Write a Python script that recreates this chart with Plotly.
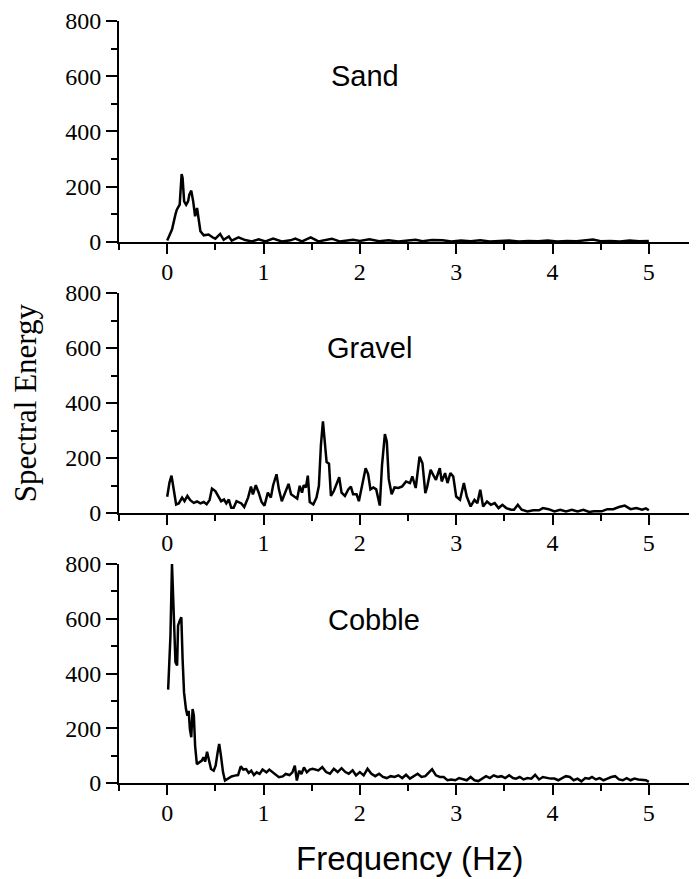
import plotly.graph_objects as go

# ---------------- data ----------------
sand_freq = [0.0, 0.05, 0.086, 0.1, 0.13, 0.15, 0.16, 0.176, 0.197, 0.217,
             0.23, 0.25, 0.27, 0.29, 0.31, 0.33, 0.345, 0.38, 0.43, 0.47,
             0.5, 0.55, 0.586, 0.64, 0.67, 0.74, 0.81, 0.88, 0.95, 1.02,
             1.1, 1.19, 1.28, 1.33, 1.4, 1.49, 1.57, 1.71, 1.79, 1.93,
             2.0, 2.1, 2.2, 2.3, 2.4, 2.5, 2.58, 2.65, 2.75, 2.86,
             2.95, 3.05, 3.15, 3.25, 3.35, 3.45, 3.55, 3.65, 3.75, 3.85,
             3.95, 4.05, 4.15, 4.25, 4.35, 4.42, 4.5, 4.6, 4.7, 4.8,
             4.9, 5.0]
sand_energy = [5, 45, 100, 117, 135, 246, 232, 147, 135, 147,
               171, 186, 147, 93, 123, 81, 39, 24, 27, 17,
               12, 29, 8, 20, 5, 17, 7, 2, 10, 2,
               12, 2, 6, 12, 2, 17, 2, 12, 2, 8,
               4, 10, 3, 6, 2, 5, 8, 3, 7, 6,
               2, 5, 3, 6, 2, 4, 5, 2, 4, 3,
               5, 2, 4, 3, 6, 9, 3, 4, 2, 5,
               3, 4]

gravel_freq = [0.0, 0.024, 0.045, 0.07, 0.093, 0.12, 0.155, 0.18, 0.21, 0.24,
               0.276, 0.31, 0.345, 0.38, 0.41, 0.44, 0.465, 0.5, 0.534, 0.56,
               0.59, 0.614, 0.64, 0.665, 0.69, 0.72, 0.77, 0.8, 0.84, 0.87,
               0.89, 0.92, 0.95, 0.98, 1.01, 1.045, 1.076, 1.1, 1.135, 1.16,
               1.19, 1.22, 1.26, 1.286, 1.32, 1.35, 1.376, 1.4, 1.417, 1.44,
               1.46, 1.48, 1.517, 1.55, 1.575, 1.596, 1.617, 1.64, 1.655, 1.68,
               1.7, 1.73, 1.76, 1.786, 1.81, 1.845, 1.88, 1.907, 1.93, 1.966,
               1.99, 2.024, 2.06, 2.086, 2.11, 2.14, 2.17, 2.207, 2.23, 2.26,
               2.28, 2.3, 2.33, 2.36, 2.4, 2.44, 2.48, 2.52, 2.545, 2.58,
               2.62, 2.65, 2.68, 2.7, 2.735, 2.77, 2.79, 2.83, 2.85, 2.885,
               2.91, 2.94, 2.97, 3.0, 3.04, 3.08, 3.11, 3.15, 3.19, 3.22,
               3.25, 3.28, 3.32, 3.36, 3.4, 3.44, 3.48, 3.52, 3.57, 3.6,
               3.64, 3.68, 3.74, 3.8, 3.86, 3.9, 3.96, 4.02, 4.08, 4.14,
               4.2, 4.26, 4.32, 4.38, 4.43, 4.51, 4.57, 4.63, 4.69, 4.75,
               4.81, 4.87, 4.93, 4.97, 5.0]
gravel_energy = [59, 111, 136, 86, 31, 35, 56, 43, 62, 47,
                 37, 42, 35, 40, 32, 47, 89, 80, 56, 43,
                 49, 35, 49, 19, 19, 43, 35, 22, 56, 96,
                 68, 101, 74, 40, 27, 74, 56, 101, 141, 86,
                 43, 68, 106, 68, 59, 52, 99, 74, 101, 93,
                 136, 40, 31, 56, 99, 247, 333, 228, 185, 179,
                 62, 80, 105, 130, 74, 62, 86, 96, 68, 68,
                 43, 101, 163, 142, 86, 93, 86, 27, 173, 287,
                 259, 124, 68, 93, 91, 97, 115, 109, 133, 91,
                 205, 181, 72, 97, 157, 133, 121, 163, 115, 145,
                 109, 145, 133, 60, 48, 109, 60, 24, 48, 36,
                 85, 24, 42, 30, 36, 18, 30, 18, 12, 12,
                 30, 12, 6, 10, 10, 18, 14, 6, 12, 6,
                 12, 6, 12, 4, 6, 6, 14, 14, 22, 27,
                 14, 18, 12, 17, 10]

cobble_freq = [0.01, 0.034, 0.05, 0.062, 0.072, 0.086, 0.103, 0.113, 0.13, 0.147,
               0.16, 0.175, 0.195, 0.21, 0.223, 0.236, 0.25, 0.264, 0.277, 0.29,
               0.308, 0.332, 0.36, 0.377, 0.394, 0.414, 0.435, 0.455, 0.483, 0.503,
               0.524, 0.54, 0.558, 0.58, 0.6, 0.634, 0.668, 0.7, 0.736, 0.764,
               0.79, 0.82, 0.846, 0.873, 0.9, 0.928, 0.96, 0.99, 1.03, 1.06,
               1.1, 1.13, 1.16, 1.2, 1.23, 1.27, 1.3, 1.325, 1.346, 1.37,
               1.394, 1.42, 1.45, 1.48, 1.51, 1.57, 1.61, 1.65, 1.69, 1.73,
               1.77, 1.81, 1.85, 1.885, 1.925, 1.96, 2.0, 2.04, 2.08, 2.12,
               2.16, 2.2, 2.24, 2.28, 2.32, 2.36, 2.4, 2.44, 2.48, 2.52,
               2.56, 2.6, 2.64, 2.68, 2.72, 2.75, 2.79, 2.83, 2.87, 2.91,
               2.95, 2.99, 3.03, 3.07, 3.11, 3.15, 3.19, 3.23, 3.27, 3.31,
               3.35, 3.39, 3.43, 3.47, 3.51, 3.55, 3.59, 3.62, 3.66, 3.7,
               3.74, 3.78, 3.82, 3.86, 3.9, 3.94, 3.98, 4.02, 4.06, 4.1,
               4.14, 4.18, 4.22, 4.26, 4.3, 4.34, 4.38, 4.41, 4.45, 4.49,
               4.53, 4.57, 4.61, 4.65, 4.69, 4.73, 4.77, 4.81, 4.85, 4.89,
               4.93, 4.97, 5.0]
cobble_energy = [341, 538, 800, 697, 600, 441, 429, 575, 593, 605,
                 453, 331, 270, 246, 264, 197, 167, 270, 246, 136,
                 69, 76, 82, 94, 78, 114, 82, 51, 45, 63,
                 112, 143, 100, 39, 9, 17, 24, 27, 29, 61,
                 49, 51, 37, 45, 29, 39, 33, 49, 39, 49,
                 39, 29, 21, 24, 33, 29, 39, 63, 9, 45,
                 33, 57, 39, 49, 52, 46, 58, 40, 34, 52,
                 40, 54, 40, 34, 46, 28, 40, 28, 52, 34,
                 25, 34, 22, 18, 25, 22, 28, 18, 30, 16,
                 25, 34, 22, 25, 40, 50, 28, 22, 22, 10,
                 13, 10, 18, 13, 10, 22, 10, 7, 16, 25,
                 18, 28, 22, 25, 18, 28, 18, 16, 22, 13,
                 18, 16, 30, 13, 22, 18, 16, 16, 10, 18,
                 25, 22, 10, 16, 6, 18, 16, 22, 13, 18,
                 10, 16, 22, 25, 13, 10, 18, 10, 16, 13,
                 12, 10, 4]

panel_names = ["Sand", "Gravel", "Cobble"]
label_pos_x = [2.05, 2.10, 2.15]
label_pos_y = [600, 600, 595]
y_ticks = [0, 200, 400, 600, 800]
x_ticks = [0, 1, 2, 3, 4, 5]

# ---------------- figure ----------------
series = [(sand_freq, sand_energy), (gravel_freq, gravel_energy), (cobble_freq, cobble_energy)]
axis_ids = ["", "2", "3"]
domains = [[0.710, 1.0], [0.3543, 0.643], [0.0, 0.2874]]

fig = go.Figure()
for (fx, fy), aid in zip(series, axis_ids):
    fig.add_trace(go.Scatter(x=fx, y=fy, mode="lines",
                             line=dict(color="black", width=2.5),
                             xaxis="x" + aid, yaxis="y" + aid,
                             showlegend=False, hoverinfo="skip"))

tickfont = dict(family="Liberation Serif", size=24, color="black")
# the page body adds an 8px margin, so the figure is 8px smaller and margins shifted
layout = dict(width=689, height=871, plot_bgcolor="white", paper_bgcolor="white",
              margin=dict(l=111, r=0, t=13, b=96), showlegend=False)

for i, aid in enumerate(axis_ids):
    layout["xaxis" + aid] = dict(
        domain=[0, 1], anchor="y" + aid, range=[-0.5001, 5.5],
        showline=True, linecolor="black", linewidth=2, showgrid=False, zeroline=False,
        ticks="outside", ticklen=10, tickwidth=2, tickcolor="black",
        tickmode="array", tickvals=x_ticks, ticktext=[str(v) for v in x_ticks],
        minor=dict(ticks="outside", ticklen=6, tickwidth=2, tickcolor="black",
                   tickmode="linear", tick0=-0.5, dtick=0.5),
        ticklabelstandoff=-3,
        tickfont=tickfont)
    layout["yaxis" + aid] = dict(
        domain=domains[i], anchor="x" + aid, range=[0, 800.01],
        showline=True, linecolor="black", linewidth=2, showgrid=False, zeroline=False,
        ticks="outside", ticklen=11, tickwidth=2, tickcolor="black",
        tickmode="array", tickvals=y_ticks, ticktext=[str(v) for v in y_ticks],
        minor=dict(ticks="outside", ticklen=6, tickwidth=2, tickcolor="black",
                   tickmode="linear", tick0=0, dtick=100),
        tickfont=tickfont)

# shared y title carried by the middle axis
layout["yaxis2"]["title"] = dict(text="Spectral Energy", standoff=30,
                                 font=dict(family="Liberation Serif", size=31, color="black"))
layout["yaxis2"]["automargin"] = False

annotations = []
for i, aid in enumerate(axis_ids):
    annotations.append(dict(x=label_pos_x[i], y=label_pos_y[i], xref="x" + aid, yref="y" + aid,
                            text=panel_names[i], showarrow=False,
                            font=dict(family="Liberation Sans", size=29, color="black"),
                            xanchor="center", yanchor="middle"))
annotations.append(dict(x=0.503, y=-0.0985, xref="paper", yref="paper", text="Frequency (Hz)",
                        showarrow=False,
                        font=dict(family="Liberation Sans", size=33, color="black"),
                        xanchor="center", yanchor="middle"))
layout["annotations"] = annotations

fig.update_layout(**layout)
fig.write_html("out.html")
